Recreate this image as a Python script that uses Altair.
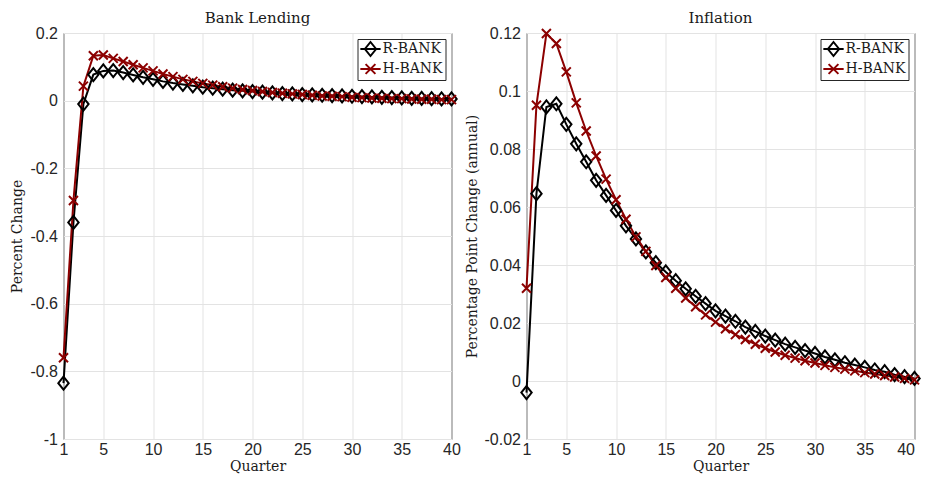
import altair as alt
import pandas as pd

quarters = list(range(1, 41))
series_names = ["R-BANK", "H-BANK"]

lending_r = [-0.835, -0.36, -0.01, 0.077, 0.088, 0.089, 0.083, 0.076, 0.069, 0.063,
             0.057, 0.052, 0.048, 0.044, 0.040, 0.037, 0.034, 0.031, 0.029, 0.027,
             0.025, 0.023, 0.021, 0.020, 0.018, 0.017, 0.016, 0.015, 0.014, 0.013,
             0.012, 0.011, 0.010, 0.009, 0.008, 0.007, 0.0065, 0.006, 0.005, 0.005]
lending_h = [-0.76, -0.295, 0.043, 0.133, 0.135, 0.125, 0.116, 0.106, 0.097, 0.088,
             0.079, 0.071, 0.063, 0.057, 0.051, 0.046, 0.041, 0.037, 0.033, 0.030,
             0.027, 0.024, 0.022, 0.020, 0.018, 0.016, 0.014, 0.013, 0.012, 0.010,
             0.009, 0.008, 0.007, 0.006, 0.006, 0.005, 0.004, 0.004, 0.003, 0.003]
inflation_r = [-0.004, 0.0646, 0.0945, 0.0956, 0.0885, 0.0818, 0.0756, 0.0692, 0.0640, 0.0588,
               0.0535, 0.0490, 0.0445, 0.0408, 0.0376, 0.0346, 0.0318, 0.0292, 0.0267, 0.0242,
               0.0224, 0.0206, 0.0186, 0.0171, 0.0155, 0.0141, 0.0127, 0.0116, 0.0105, 0.0095,
               0.0083, 0.0073, 0.0063, 0.0055, 0.0047, 0.0038, 0.0032, 0.0022, 0.0015, 0.0009]
inflation_h = [0.032, 0.0951, 0.1198, 0.1164, 0.1066, 0.0959, 0.0862, 0.0776, 0.0696, 0.0625,
               0.0558, 0.0497, 0.0447, 0.0398, 0.0357, 0.0320, 0.0286, 0.0256, 0.0228, 0.0203,
               0.0180, 0.0160, 0.0143, 0.0127, 0.0113, 0.0100, 0.0089, 0.0079, 0.0070, 0.0062,
               0.0054, 0.0047, 0.0041, 0.0035, 0.0029, 0.0024, 0.0019, 0.0014, 0.0009, 0.0004]

x_ticks = [1, 5, 10, 15, 20, 25, 30, 35, 40]

COLORS = ["#000000", "#8c0000"]
MARKERS = ["M0,-1L0.8,0L0,1L-0.8,0Z", "M-1,-1L1,1M-1,1L1,-1"]
LEGEND_MARKERS = ["M-1.45,0L1.45,0M0,-1L0.8,0L0,1L-0.8,0Z",
                  "M-1.45,0L1.45,0M-0.7,-0.7L0.7,0.7M-0.7,0.7L0.7,-0.7"]


def long_df(r, h):
    return pd.DataFrame({
        "Quarter": quarters * 2,
        "value": r + h,
        "series": [series_names[0]] * len(r) + [series_names[1]] * len(h),
        "order": [0] * len(r) + [1] * len(h),
    })


YLABEL = "datum.value < 0 ? '-' + format(-datum.value, '~g') : format(datum.value, '~g')"


def panel(df, title, ytitle, ydom, ystep, align_last_right=False):
    yvals = []
    v = ydom[0]
    while v <= ydom[1] + 1e-9:
        yvals.append(round(v, 6))
        v += ystep
    xaxis_kw = dict(values=x_ticks, format="d", title="Quarter", labelFlush=False)
    if align_last_right:
        xaxis_kw["labelAlign"] = {"condition": {"test": "datum.value >= 40", "value": "right"},
                                  "value": "center"}
    x = alt.X("Quarter:Q", scale=alt.Scale(domain=[1, 40], nice=False),
              axis=alt.Axis(**xaxis_kw))
    y = alt.Y("value:Q", scale=alt.Scale(domain=ydom, nice=False, zero=False),
              axis=alt.Axis(values=yvals, labelExpr=YLABEL, title=ytitle))
    color_scale = alt.Scale(domain=series_names, range=COLORS)
    base = alt.Chart(df)
    lines = base.mark_line(strokeWidth=2).encode(
        x=x, y=y,
        color=alt.Color("series:N", scale=color_scale, legend=None),
        detail="series:N",
        order="order:Q",
    )
    pts_r = base.transform_filter(alt.datum.series == series_names[0]).mark_point(
        filled=False, strokeWidth=2, size=169, shape=MARKERS[0], opacity=1
    ).encode(x=x, y=y, color=alt.Color("series:N", scale=color_scale, legend=None))
    pts_h = base.transform_filter(alt.datum.series == series_names[1]).mark_point(
        filled=False, strokeWidth=2, size=81, shape=MARKERS[1], opacity=1
    ).encode(x=x, y=y, color=alt.Color("series:N", scale=color_scale, legend=None))
    leg = base.transform_filter("false").mark_point(filled=False, strokeWidth=2, opacity=1).encode(
        x=x, y=y,
        color=alt.Color("series:N", scale=color_scale, legend=alt.Legend(title=None, orient="top-right")),
        shape=alt.Shape("series:N", scale=alt.Scale(domain=series_names, range=LEGEND_MARKERS),
                        legend=alt.Legend(title=None, orient="top-right")),
    )
    return alt.layer(lines, pts_r, pts_h, leg).resolve_scale(
        color="independent", shape="independent"
    ).properties(width=388, height=406, title=title)


left = panel(long_df(lending_r, lending_h), "Bank Lending", "Percent Change", [-1, 0.2], 0.2)
right = panel(long_df(inflation_r, inflation_h), "Inflation", "Percentage Point Change (annual)",
              [-0.02, 0.12], 0.02, align_last_right=True)

chart = alt.hconcat(left, right, spacing=3).resolve_scale(
    color="independent", shape="independent"
).properties(
    padding={"left": 1.5, "top": 2, "right": 0, "bottom": 0}
).configure_view(
    stroke="#262626", strokeWidth=1
).configure_axis(
    domain=False, ticks=False, grid=True, gridColor="#e3e3e3", gridWidth=1,
    labelFont="Liberation Sans", labelFontSize=16, labelColor="#262626",
    titleFont="DejaVu Serif", titleFontSize=14, titleFontWeight="normal", titleColor="#1a1a1a",
).configure_axisY(labelPadding=6, titlePadding=5).configure_axisX(
    labelPadding=2, titlePadding=2
).configure_title(
    font="DejaVu Serif", fontSize=15, fontWeight="normal", color="#1a1a1a", offset=-1
).configure_legend(
    strokeColor="#262626", fillColor="white", padding=2, labelFont="DejaVu Serif",
    labelFontSize=14, labelColor="#1a1a1a", symbolSize=196, symbolStrokeWidth=2,
    rowPadding=0, offset=6, cornerRadius=0, labelOffset=4, symbolOffset=3
)

chart.save("out.html", embed_options={"renderer": "svg", "actions": False})
